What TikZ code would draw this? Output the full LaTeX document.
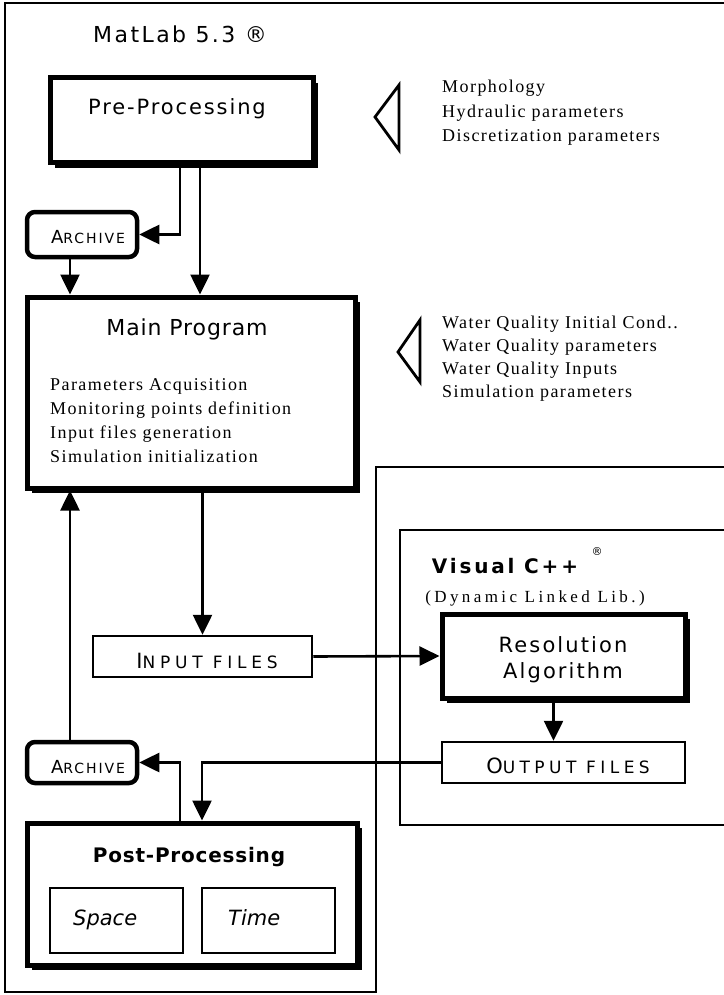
\documentclass[tikz,border=0pt]{standalone}
\usepackage{fontspec}
\setmainfont{Liberation Serif}
\newfontfamily\sfx{DejaVu Sans}
\usetikzlibrary{arrows.meta,shadows}
\newcommand\fsz[1]{\fontsize{#1}{#1}\selectfont}
\newcommand\fakesc[4]{{\fsz{#1}#3}{\fsz{#2}#4}}
\tikzset{
  thickbox/.style={draw, line width=5pt, fill=white, inner sep=0pt,
    drop shadow={shadow xshift=5pt, shadow yshift=-5pt, fill=black, opacity=1}},
  roundbox/.style={draw, line width=4.5pt, rounded corners=8pt, fill=white, inner sep=0pt},
  thinbox/.style={draw, line width=2.5pt, fill=white, inner sep=0pt},
  conn/.style={line width=2.6pt, -{Triangle[width=19pt,length=20pt]}},
  framel/.style={line width=2.4pt},
  opentri/.style={line width=2.8pt, line join=miter},
  sftitle/.style={inner sep=0pt, anchor=base, font=\sfx\fsz{21}\addfontfeature{LetterSpace=#1}},
  sctext/.style={inner sep=0pt, anchor=base, font=\sfx\addfontfeature{LetterSpace=#1}},
  serifline/.style={inner sep=0pt, anchor=base west, font=\fsz{18}\addfontfeature{LetterSpace=8}},
}
\begin{document}
\begin{tikzpicture}[x=1pt,y=-1pt]
\useasboundingbox (0,0) rectangle (723,995);
\fill[white] (0,0) rectangle (723,995);

% frames
\draw[framel] (726,3) -- (5,3) -- (5,992) -- (376,992) -- (376,467) -- (726,467);
\draw[framel] (726,530) -- (400,530) -- (400,825) -- (726,825);

% titles
\node[inner sep=0pt, anchor=base, font=\sfx\fsz{22}\addfontfeature{LetterSpace=11}] (matlab) at (180,43) {MatLab 5.3 ®};

% boxes
\node[thickbox, minimum width=263pt, minimum height=85pt] (pre) at (181.5,120.5) {};
\node[sftitle=9] (pretext) at (177,115) {Pre-Processing};

\node[roundbox, minimum width=110pt, minimum height=45pt] (arch1) at (82,234.5) {};
\node[sctext=14] (arch1text) at (88,243) {\fakesc{18}{14}{A}{RCHIVE}};

\node[thickbox, minimum width=328pt, minimum height=191pt] (main) at (191,392.5) {};
\node[inner sep=0pt, anchor=base, font=\sfx\fsz{22}\addfontfeature{LetterSpace=4}] (maintext) at (187,335) {Main Program};
\foreach \t [count=\i] in {Parameters Acquisition, Monitoring points definition, Input files generation, Simulation initialization}
  \node[serifline] (ml\i) at (50,{390+24*(\i-1)}) {\t};

% right lists
\draw[opentri] (399,85) -- (375,117) -- (399,150) -- cycle;
\foreach \t [count=\i] in {Morphology, Hydraulic parameters, Discretization parameters}
  \node[serifline] (ga\i) at (442,{93+24.5*(\i-1)}) {\t};
\draw[opentri] (420,320) -- (398,352) -- (420,382) -- cycle;
\foreach \t [count=\i] in {Water Quality Initial Cond.., Water Quality parameters, Water Quality Inputs, Simulation parameters}
  \node[serifline] (gb\i) at (442,{328+23*(\i-1)}) {\t};

\node[thinbox, minimum width=219pt, minimum height=41pt] (infiles) at (202.5,656.5) {};
\node[sctext=28] (infilestext) at (207,668) {\fakesc{21}{17}{I}{NPUT FILES}};

% Visual C++
\node[inner sep=0pt, anchor=base, font=\sfx\bfseries\fsz{20}\addfontfeature{LetterSpace=14}] (visual) at (505,573) {Visual C++};
\node[inner sep=0pt, font=\sfx\fsz{11}] (reg) at (597,552) {®};
\node[inner sep=0pt, anchor=base, font=\fsz{17}\addfontfeature{LetterSpace=20}] (dll) at (535,602) {(Dynamic Linked Lib.)};

\node[thickbox, minimum width=243pt, minimum height=84pt] (res) at (563.5,656) {};
\node[sftitle=10] (res1) at (563,652) {Resolution};
\node[sftitle=10] (res2) at (563,678) {Algorithm};

\node[thinbox, minimum width=243pt, minimum height=41pt] (outfiles) at (563.5,762.5) {};
\node[sctext=26] (outfilestext) at (568,773) {\fakesc{21}{17}{O}{UTPUT FILES}};

\node[roundbox, minimum width=110pt, minimum height=41pt] (arch2) at (82,762.5) {};
\node[sctext=14] (arch2text) at (88,773) {\fakesc{18}{14}{A}{RCHIVE}};

\node[thickbox, minimum width=330pt, minimum height=142pt] (post) at (192,894) {};
\node[inner sep=0pt, anchor=base, font=\sfx\bfseries\fsz{20}\addfontfeature{LetterSpace=4}] (posttext) at (189,862) {Post-Processing};
\node[thinbox, minimum width=133pt, minimum height=65pt] (space) at (116.5,920.5) {};
\node[inner sep=0pt, anchor=base west, font=\sfx\itshape\fsz{21}] (spacetext) at (73,925) {Space};
\node[thinbox, minimum width=133pt, minimum height=65pt] (time) at (268.5,920.5) {};
\node[inner sep=0pt, anchor=base west, font=\sfx\itshape\fsz{21}] (timetext) at (228,925) {Time};

% connectors
\draw[conn] ([xshift=-1.5pt]pre.south) |- (arch1.east);
\draw[conn] ([xshift=18.5pt]pre.south) -- ([xshift=18.5pt]pre.south |- main.north);
\draw[conn] ([xshift=-12pt]arch1.south) -- ([xshift=-12pt]arch1.south |- main.north);
\draw[conn] (infiles.north |- main.south) -- (infiles.north);
\draw[conn] (infiles.east) -- (res.west);
\draw[conn] ([xshift=-10pt]res.south) -- ([xshift=-10pt]res.south |- outfiles.north);
\draw[conn] (outfiles.west) -| ([xshift=10pt]post.north);
\draw[conn] ([xshift=-12pt]post.north) |- (arch2.east);
\draw[conn] ([xshift=-12pt]arch2.north) -- ([xshift=-12pt]arch2.north |- main.south);
\end{tikzpicture}
\end{document}
